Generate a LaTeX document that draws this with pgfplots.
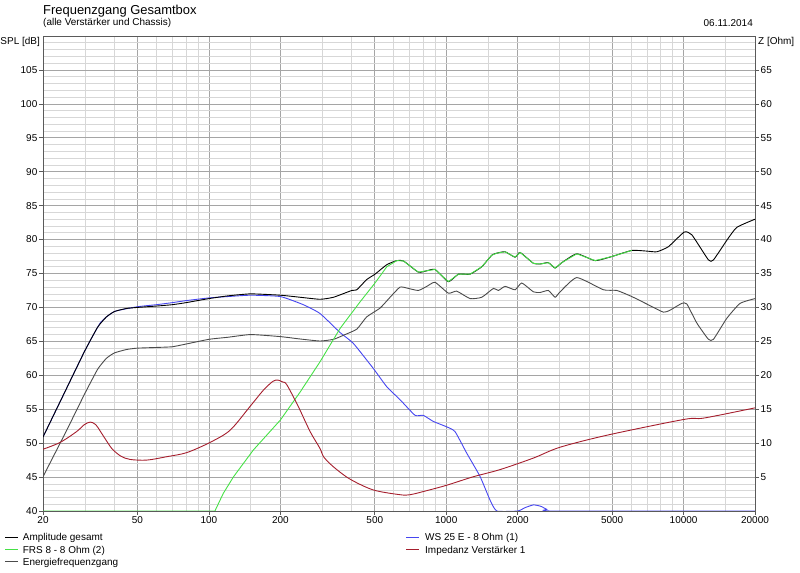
\documentclass[border=0pt]{standalone}
\usepackage{pgfplots}
\pgfplotsset{compat=1.18}
\usepackage{fontspec}
\setmainfont{Liberation Sans}
\definecolor{cgreen}{RGB}{70,225,70}
\definecolor{cblue}{RGB}{70,70,240}
\definecolor{cred}{RGB}{165,30,45}
\definecolor{cgray}{RGB}{75,75,75}
\definecolor{majgrid}{RGB}{165,165,165}
\definecolor{mingrid}{RGB}{215,215,215}
\definecolor{cframe}{RGB}{90,90,90}

\begin{document}
\begin{tikzpicture}[x=1bp,y=1bp]
\path[use as bounding box] (-43,-62) rectangle (757,511);
% legend
\fill[black] (-38,-27.2) rectangle (-25,-25.8);
\fill[cgreen] (-38,-39.2) rectangle (-25,-37.8);
\fill[cgray] (-38,-51.2) rectangle (-25,-49.8);
\fill[cblue] (363,-27.2) rectangle (376,-25.8);
\fill[cred] (363,-39.2) rectangle (376,-37.8);
\node[anchor=base west, inner sep=0pt, font=\fontsize{10}{12}\selectfont] at (-20.3,-30) {Amplitude gesamt};
\node[anchor=base west, inner sep=0pt, font=\fontsize{10}{12}\selectfont] at (-20.3,-42.3) {FRS 8 - 8 Ohm (2)};
\node[anchor=base west, inner sep=0pt, font=\fontsize{10}{12}\selectfont] at (-20.3,-54.6) {Energiefrequenzgang};
\node[anchor=base west, inner sep=0pt, font=\fontsize{10}{12}\selectfont] at (382,-30) {WS 25 E - 8 Ohm (1)};
\node[anchor=base west, inner sep=0pt, font=\fontsize{10}{12}\selectfont] at (382,-42.3) {Impedanz Verstärker 1};
\begin{axis}[
  at={(0,0)}, anchor=south west,
  scale only axis, width=712bp, height=475bp,
  xmode=log, xmin=20, xmax=20000, ymin=40, ymax=110,
  xtick={20,50,100,200,500,1000,2000,5000,10000,20000},
  xticklabels={20,50,100,200,500,1000,2000,5000,10000,20000},
  minor xtick={30,40,60,70,80,90,150,300,400,600,700,800,900,1500,3000,4000,6000,7000,8000,9000,15000},
  ytick={40,45,...,105},
  minor ytick={41,42,...,109},
  grid=both,
  major grid style={draw=majgrid, line width=0.6bp},
  minor grid style={draw=mingrid, line width=0.6bp},
  axis line style={draw=cframe, line width=0.7bp},
  tick align=outside, xtick pos=bottom, ytick pos=left,
  major tick length=4bp, minor tick length=0pt,
  tick style={draw=cframe, line width=0.6bp},
  /pgf/number format/assume math mode=true,
  ticklabel style={font=\fontsize{10}{12}\selectfont, inner sep=1.5bp},
]
% WS 25 E (blue)
\addplot[cblue, line width=0.9bp, smooth, tension=0.3] coordinates {
(20,50.9) (25,57.9) (30,63.6) (35,67.8) (40,69.4) (50,70.1) (60,70.4) (70,70.7) (80,71.0)
(100,71.4) (120,71.6) (150,71.8) (200,71.6) (250,70.4) (294,69.1) (357,66.3) (406,64.7)
(493,61.0) (562,58.3) (639,56.4) (739,54.1) (800,54.1) (882,53.2) (1005,52.4) (1089,51.7)
(1221,48.5) (1390,45.05) (1530,41.6) (1634,40.0) (2000,40.0) (2150,40.5) (2330,40.9)
(2500,40.7) (2650,40.25) (2800,40.0) (20000,40.0)};
% Energiefrequenzgang (lower)
\addplot[cgray, line width=0.9bp, smooth, tension=0.3] coordinates {
(20,45.05) (25,51.7) (30,57.3) (34,60.9) (37,62.5) (40,63.3) (45,63.8) (50,64.0) (60,64.1) (70,64.2) (80,64.6)
(100,65.3) (120,65.6) (150,66.0) (200,65.7) (242,65.35) (294,65.05) (335,65.3) (369,65.9)
(420,66.8) (462,68.6) (526,69.9) (580,71.5) (639,73.0) (692,72.8) (763,72.5) (828,73.1)
(897,73.7) (1021,72.1) (1107,72.4) (1260,71.3) (1412,71.5) (1580,72.8) (1659,72.5)
(1770,73.1) (1950,72.6) (2081,73.6) (2329,72.3) (2486,72.2) (2694,72.5) (2875,71.5)
(3018,72.3) (3549,74.4) (4595,72.6) (5234,72.5) (6052,71.6) (7000,70.5) (8224,69.3)
(8776,69.6) (9829,70.6) (10325,70.5) (11371,67.7) (12727,65.3) (13360,65.3) (15214,68.4)
(17305,70.6) (20000,71.3)};
% Amplitude gesamt (upper)
\addplot[black, line width=0.9bp, smooth, tension=0.3] coordinates {
(20,50.9) (25,57.9) (30,63.6) (34,67.1) (37,68.6) (40,69.4) (45,69.85) (50,70.0) (60,70.2) (70,70.4) (80,70.7)
(100,71.3) (120,71.7) (150,72.0) (200,71.8) (242,71.5) (294,71.2) (335,71.5) (400,72.5)
(420,72.6) (462,74.1) (501,74.9) (562,76.3) (619,76.9) (660,76.85) (763,75.2) (828,75.4)
(897,75.6) (1021,73.8) (1125,74.9) (1260,74.9) (1412,76.0) (1556,77.7) (1634,78.0)
(1770,78.2) (1950,77.4) (2047,78.1) (2329,76.5) (2486,76.4) (2694,76.6) (2875,75.8)
(3069,76.6) (3549,77.9) (4240,76.9) (4985,77.5) (6052,78.4) (7000,78.3) (7715,78.2)
(8633,78.95) (10057,81.1) (10836,80.7) (12727,77.0) (13360,77.0) (15214,79.9) (16760,81.8)
(20000,83.0)};
% FRS 8 (green)
\addplot[cgreen, line width=0.9bp] coordinates {
(20,40) (106,40) (115,42.6) (127,45.05) (154,49.0) (200,53.4) (242,57.5) (294,62.0)
(357,66.9) (433,70.8) (501,73.6) (562,76.0) (619,76.9) (660,76.85) (763,75.2) (828,75.4)
(897,75.6) (1021,73.8) (1125,74.9) (1260,74.9) (1412,76.0) (1556,77.7) (1634,78.0)
(1770,78.2) (1950,77.4) (2047,78.1) (2329,76.5) (2486,76.4) (2694,76.6) (2875,75.8)
(3069,76.6) (3549,77.9) (4240,76.9) (4985,77.5) (6052,78.4)};
\end{axis}
\begin{axis}[
  at={(0,0)}, anchor=south west,
  scale only axis, width=712bp, height=475bp,
  xmode=log, xmin=20, xmax=20000, ymin=0, ymax=70,
  axis x line=none, axis y line*=right,
  ytick={5,10,...,65},
  axis line style={draw=cframe, line width=0.7bp},
  tick align=outside, major tick length=4bp,
  tick style={draw=cframe, line width=0.6bp},
  /pgf/number format/assume math mode=true,
  ticklabel style={font=\fontsize{10}{12}\selectfont, inner sep=1.5bp},
]
\addplot[cred, line width=0.9bp, smooth, tension=0.5] coordinates {
(20,9.1) (23.6,10.1) (27.7,11.7) (29.8,12.7) (31.6,13.1) (33.4,12.7) (36,11.0) (39,9.2) (42.5,8.1) (46.5,7.6) (54.7,7.5)
(66.4,8.0) (80.6,8.6) (101,10.1) (122.8,11.9) (149,15.4) (169.6,17.8) (186,19.1) (195,19.3)
(205,19.0) (213,18.6) (238,15.4) (267,11.7) (294,9.2) (304,8.0) (335,6.5) (393,4.7) (493,3.1)
(639,2.4) (704,2.4) (828,3.0) (1005,3.8) (1301,5.05) (1685,6.1) (2329,7.8) (3018,9.4)
(4800,11.2) (10057,13.5) (12200,13.7) (20000,15.2)};
\end{axis}
\node[anchor=base west, inner sep=0pt, font=\fontsize{13}{15}\selectfont] at (0,496) {Frequenzgang Gesamtbox};
\node[anchor=base west, inner sep=0pt, font=\fontsize{10}{12}\selectfont] at (0,485) {(alle Verstärker und Chassis)};
\node[anchor=base east, inner sep=0pt, font=\fontsize{10}{12}\selectfont] at (710,484) {06.11.2014};
\node[anchor=base east, inner sep=0pt, font=\fontsize{10}{12}\selectfont] at (-3,466) {SPL [dB]};
\node[anchor=base west, inner sep=0pt, font=\fontsize{10}{12}\selectfont] at (715,466) {Z [Ohm]};
\end{tikzpicture}
\end{document}
